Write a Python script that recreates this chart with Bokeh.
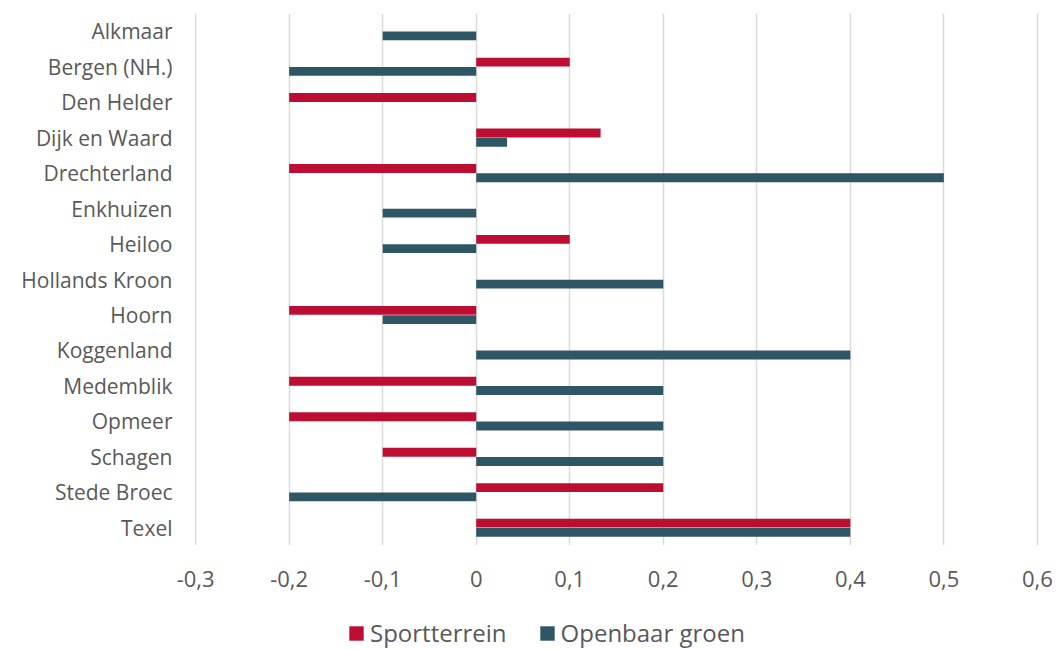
from bokeh.plotting import figure
from bokeh.models import (ColumnDataSource, FactorRange, Range1d, FixedTicker,
                          CustomJSTickFormatter, Legend, LegendItem)
from bokeh.layouts import column
from bokeh.transform import dodge
from bokeh.embed import file_html
from bokeh.resources import INLINE

categories = ["Alkmaar", "Bergen (NH.)", "Den Helder", "Dijk en Waard", "Drechterland",
              "Enkhuizen", "Heiloo", "Hollands Kroon", "Hoorn", "Koggenland",
              "Medemblik", "Opmeer", "Schagen", "Stede Broec", "Texel"]
sportterrein = [0, 0.1, -0.2, 0.133, -0.2, 0, 0.1, 0, -0.2, 0, -0.2, -0.2, -0.1, 0.2, 0.4]
openbaar_groen = [-0.1, -0.2, 0, 0.033, 0.5, -0.1, -0.1, 0.2, -0.1, 0.4, 0.2, 0.2, 0.2, -0.2, 0.4]
x_ticks = [-0.3, -0.2, -0.1, 0, 0.1, 0.2, 0.3, 0.4, 0.5, 0.6]
series_names = ["Sportterrein", "Openbaar groen"]

RED = "#BD0D32"
TEAL = "#2E5665"
TEXT = "#595959"
FONT = "Open Sans"

src = ColumnDataSource(dict(cat=categories, s=sportterrein, o=openbaar_groen))

p = figure(width=1059, height=600, output_backend="svg", toolbar_location=None,
           y_range=FactorRange(*reversed(categories)), x_range=Range1d(-0.3012, 0.6012),
           min_border_left=194, min_border_right=21, min_border_top=13, min_border_bottom=55)
p.y_range.range_padding = 0

p.hbar(y=dodge("cat", 0.13, range=p.y_range), right="s", left=0, height=0.25,
       source=src, fill_color=RED, line_color=None)
p.hbar(y=dodge("cat", -0.13, range=p.y_range), right="o", left=0, height=0.25,
       source=src, fill_color=TEAL, line_color=None)

p.xaxis.ticker = FixedTicker(ticks=x_ticks)
p.xaxis.formatter = CustomJSTickFormatter(code="""
if (Math.abs(tick) < 1e-9) { return "0"; }
return tick.toFixed(1).replace('.', ',');
""")
p.xgrid.ticker = FixedTicker(ticks=x_ticks)
p.xgrid.grid_line_color = "#D9D9D9"
p.xgrid.grid_line_width = 1.5
p.ygrid.grid_line_color = None
p.outline_line_color = None

for ax in (p.xaxis, p.yaxis):
    ax.axis_line_color = None
    ax.major_tick_line_color = None
    ax.minor_tick_line_color = None
    ax.major_tick_out = 0
    ax.major_tick_in = 0
    ax.major_label_text_font = FONT
    ax.major_label_text_color = TEXT
p.yaxis.major_label_text_font_size = "21px"
p.xaxis.major_label_text_font_size = "22px"
p.xaxis.major_label_standoff = 25
p.yaxis.major_label_standoff = 22

# legend strip below the chart
lg = figure(width=1059, height=49, output_backend="svg", toolbar_location=None,
            x_range=Range1d(0, 1), y_range=Range1d(0, 1),
            min_border_left=0, min_border_right=0, min_border_top=0, min_border_bottom=0)
lg.axis.visible = False
lg.grid.visible = False
lg.outline_line_color = None
swatch = ColumnDataSource(dict(y=[0], r=[0]))
l1 = lg.hbar(y="y", right="r", left=0, height=0.1, source=swatch, fill_color=RED, line_color=None)
l2 = lg.hbar(y="y", right="r", left=0, height=0.1, source=swatch, fill_color=TEAL, line_color=None)

legend = Legend(items=[LegendItem(label=series_names[0], renderers=[l1]),
                       LegendItem(label=series_names[1], renderers=[l2])],
                orientation="horizontal", location=(153, 0),
                label_text_font=FONT, label_text_font_size="24px", label_text_color=TEXT,
                glyph_width=18, glyph_height=18, spacing=31, label_standoff=5,
                border_line_color=None, background_fill_alpha=0, margin=0, padding=0)
lg.add_layout(legend, "center")

layout = column(p, lg, spacing=0)
open("out.html", "w").write(file_html(layout, INLINE))
